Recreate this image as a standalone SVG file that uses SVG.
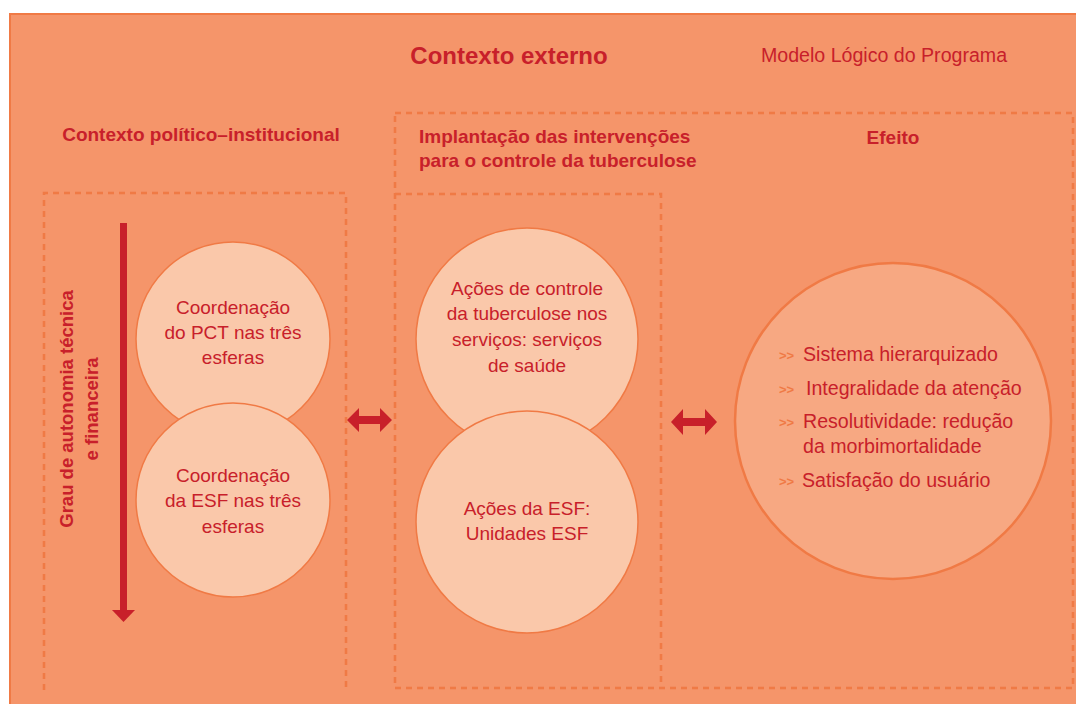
<svg xmlns="http://www.w3.org/2000/svg" width="1076" height="704" viewBox="0 0 1076 704">
<defs>
<style>
.bg{fill:#F5956A;stroke:#F07A45;stroke-width:2}
.dash{fill:none;stroke:#F07A45;stroke-width:2.5;stroke-dasharray:6 5}
.c{fill:#FAC8AA;stroke:#F07A45;stroke-width:1.5}
.ce{fill:#F7A882;stroke:#F07A45;stroke-width:2.5}
.h{font-family:"Liberation Sans",Arial,sans-serif;font-weight:bold;fill:#C8202A}
.t{font-family:"Liberation Sans",Arial,sans-serif;font-size:19px;fill:#C8202A}
.te{font-family:"Liberation Sans",Arial,sans-serif;font-size:19.6px;fill:#C8202A}
.b{font-family:"Liberation Sans",Arial,sans-serif;font-size:13px;font-weight:bold;fill:#F07A45}
.arr{fill:#C8202A}
</style>
</defs>
<rect width="1076" height="704" fill="#FFFFFF"/>
<rect class="bg" x="10" y="14" width="1080" height="700"/>
<path class="dash" d="M44,690 V193 H346 V690"/>
<path class="dash" d="M395,113 H1073 V688 H395 Z"/>
<path class="dash" d="M395,194 H661 V688"/>
<text class="h" x="509" y="64" font-size="24" text-anchor="middle">Contexto externo</text>
<text class="te" x="884" y="62" text-anchor="middle" style="font-size:19.6px">Modelo Lógico do Programa</text>
<text class="h" x="201" y="141" font-size="19" text-anchor="middle">Contexto político–institucional</text>
<text class="h" x="419" y="143" font-size="19">Implantação das intervenções</text>
<text class="h" x="419" y="167" font-size="19">para o controle da tuberculose</text>
<text class="h" x="893" y="144" font-size="19" text-anchor="middle">Efeito</text>
<g id="eixo">
<rect class="arr" x="120" y="223" width="7" height="390"/>
<polygon class="arr" points="112,610 135,610 123.5,622"/>
<text class="h" font-size="18.5" text-anchor="middle" transform="translate(73,409) rotate(-90)">Grau de autonomia técnica</text>
<text class="h" font-size="18.5" text-anchor="middle" transform="translate(98,409) rotate(-90)">e financeira</text>
</g>
<g id="pct">
<circle class="c" cx="233" cy="339" r="97"/>
<text class="t" x="233" y="314" text-anchor="middle">Coordenação</text>
<text class="t" x="233" y="339" text-anchor="middle">do PCT nas três</text>
<text class="t" x="233" y="364" text-anchor="middle">esferas</text>
</g>
<g id="esf">
<circle class="c" cx="233" cy="500" r="97"/>
<text class="t" x="233" y="482" text-anchor="middle">Coordenação</text>
<text class="t" x="233" y="507" text-anchor="middle">da ESF nas três</text>
<text class="t" x="233" y="533" text-anchor="middle">esferas</text>
</g>
<g id="acoes">
<circle class="c" cx="527" cy="339" r="111"/>
<text class="t" x="527" y="295" text-anchor="middle">Ações de controle</text>
<text class="t" x="527" y="320" text-anchor="middle">da tuberculose nos</text>
<text class="t" x="527" y="346" text-anchor="middle">serviços: serviços</text>
<text class="t" x="527" y="372" text-anchor="middle">de saúde</text>
</g>
<g id="unidades">
<circle class="c" cx="527" cy="522" r="111"/>
<text class="t" x="527" y="515" text-anchor="middle">Ações da ESF:</text>
<text class="t" x="527" y="540" text-anchor="middle">Unidades ESF</text>
</g>
<g id="efeito">
<circle class="ce" cx="893" cy="421" r="158"/>
<text class="b" x="779" y="360">&gt;&gt;</text>
<text class="te" x="803" y="361">Sistema hierarquizado</text>
<text class="b" x="779" y="394">&gt;&gt;</text>
<text class="te" x="806" y="395">Integralidade da atenção</text>
<text class="b" x="779" y="427">&gt;&gt;</text>
<text class="te" x="803" y="428">Resolutividade: redução</text>
<text class="te" x="803" y="453">da morbimortalidade</text>
<text class="b" x="779" y="486">&gt;&gt;</text>
<text class="te" x="802" y="487">Satisfação do usuário</text>
</g>
<g id="connectors">
<polygon class="arr" points="347,420 359,408 359,416 380,416 380,408 392,420 380,432 380,424 359,424 359,432"/>
<polygon class="arr" points="671,422 683,409 683,418 705,418 705,409 717,422 705,435 705,426 683,426 683,435"/>
</g>
</svg>
